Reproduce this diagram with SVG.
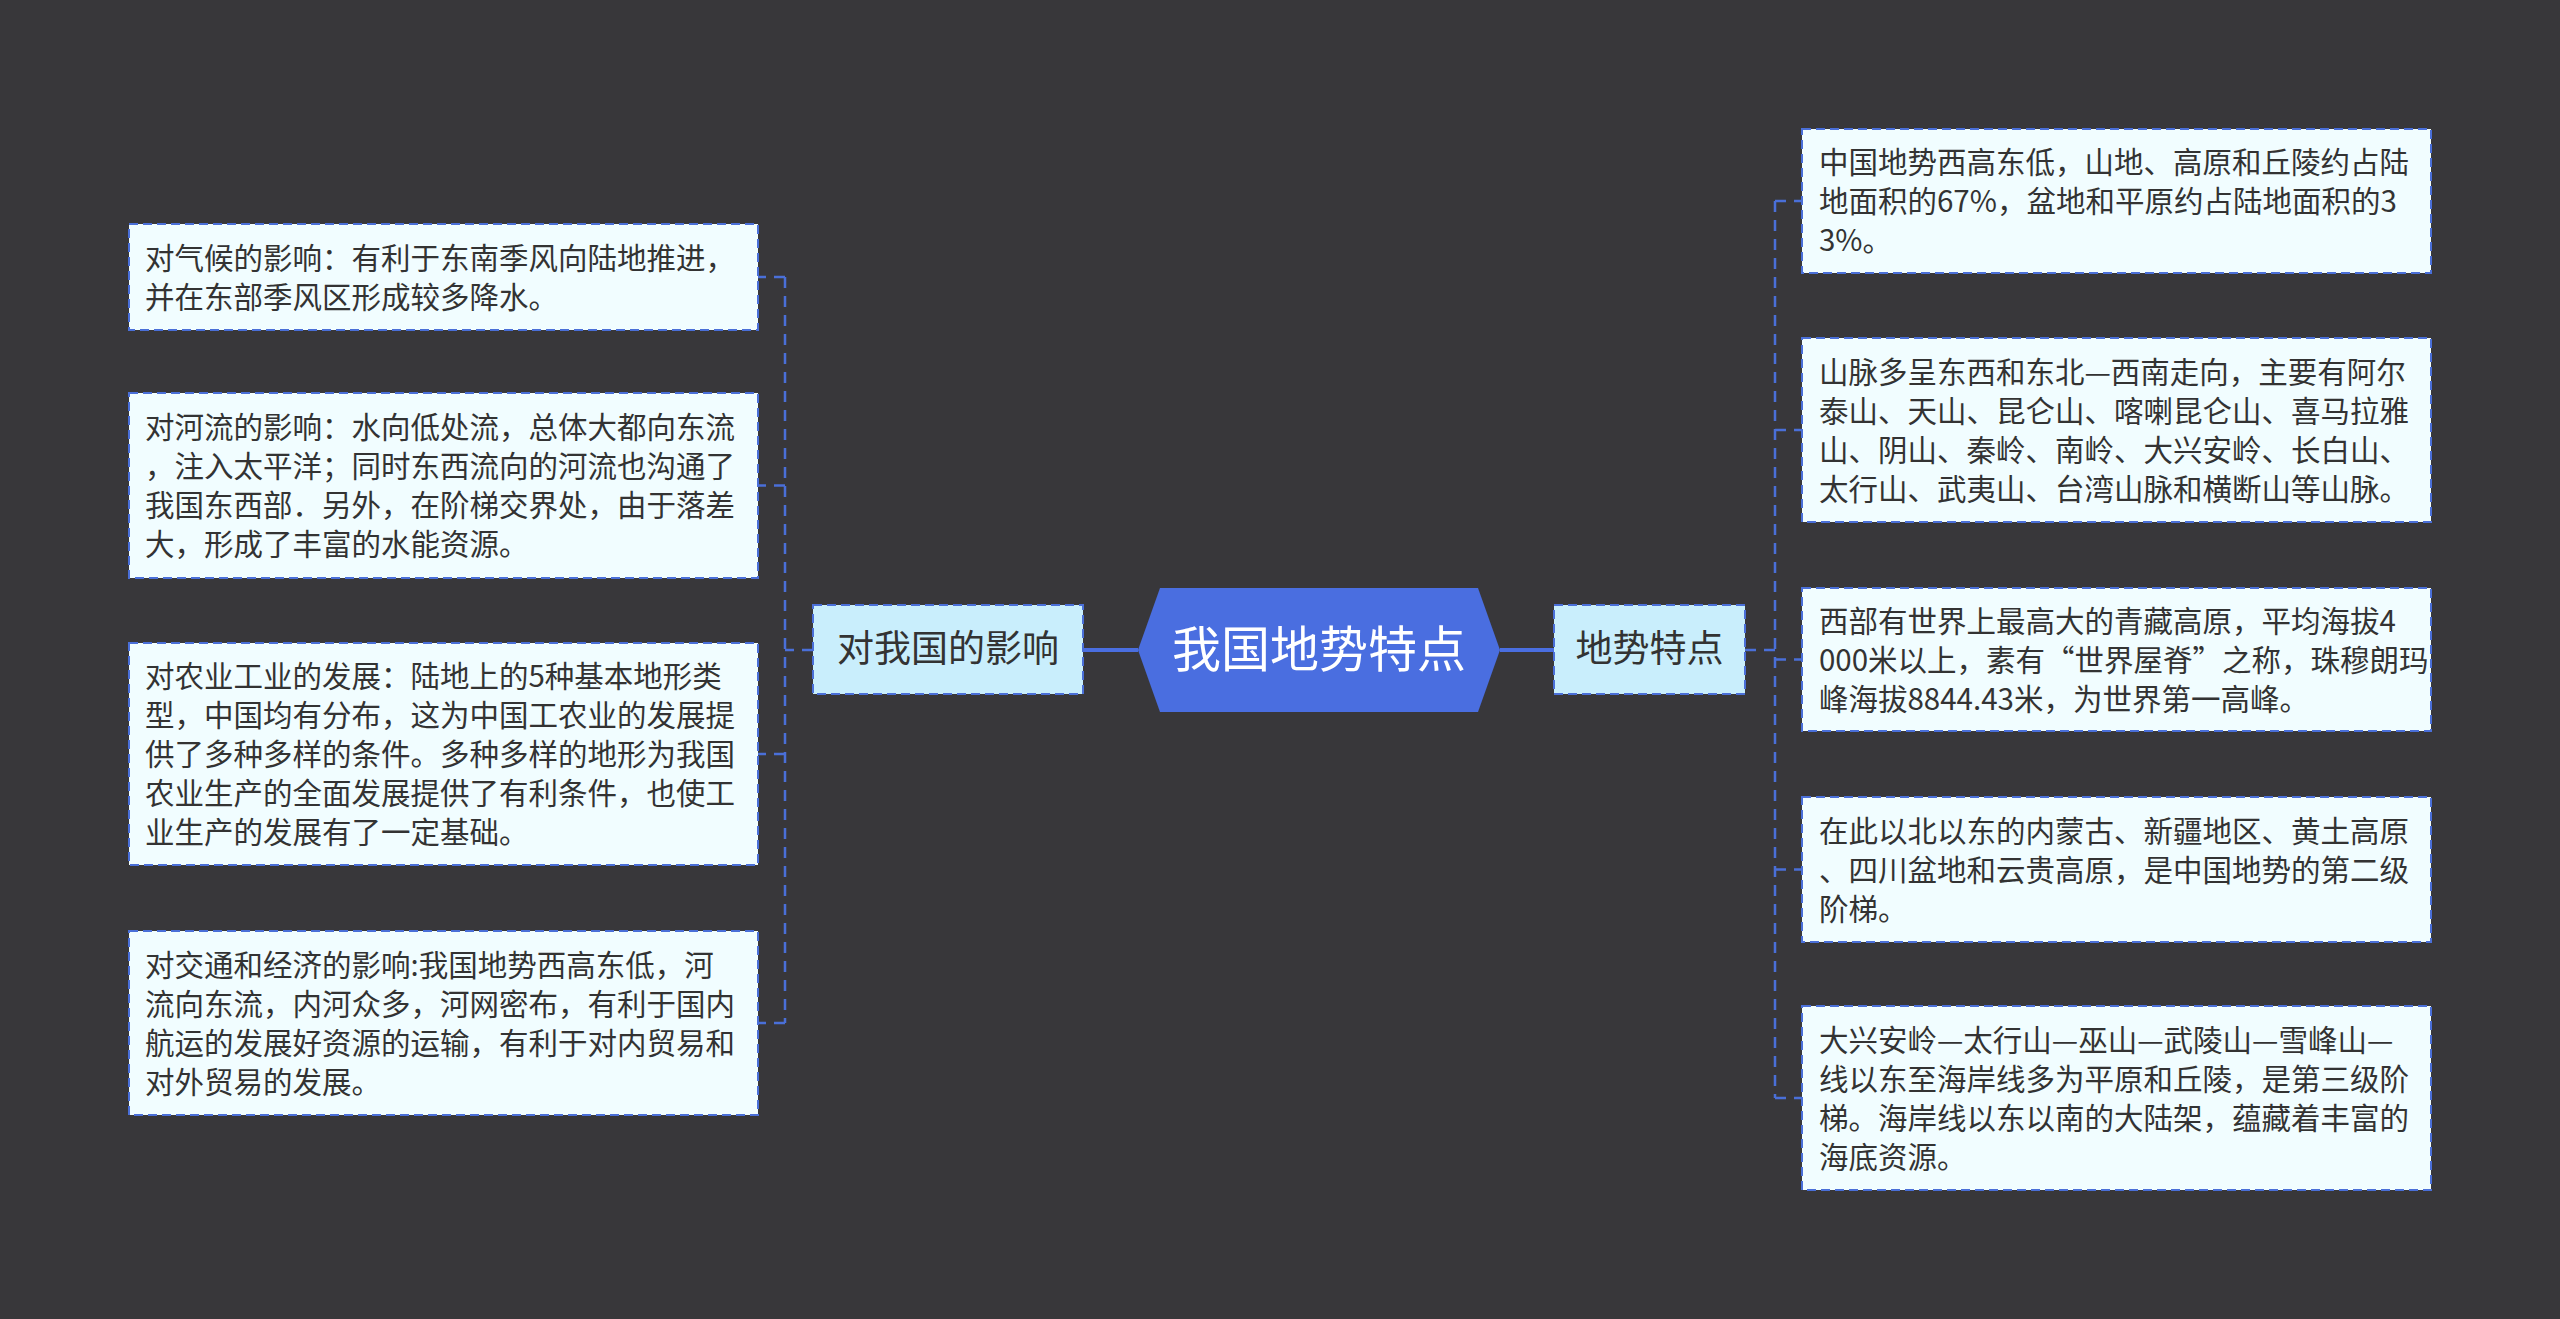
<svg xmlns="http://www.w3.org/2000/svg" width="2560" height="1319" viewBox="0 0 2560 1319">
<style>
.bg{fill:#38373a}
.leaf{fill:#f1fdff;stroke:#4a6fd8;stroke-width:2;stroke-dasharray:9 5}
.mid{fill:#c9eefc;stroke:#4a6fd8;stroke-width:2;stroke-dasharray:9 5}
.root{fill:#4a6ee0}
.t{font-family:"Noto Sans CJK SC","Noto Sans",sans-serif;font-size:29.5px;fill:#333333}
.tm{font-family:"Noto Sans CJK SC","Noto Sans",sans-serif;font-size:37px;fill:#333333;text-anchor:middle}
.tr{font-family:"Noto Sans CJK SC","Noto Sans",sans-serif;font-size:49px;fill:#ffffff;text-anchor:middle}
.solid{fill:none;stroke:#4a6ee0;stroke-width:4}
.dash{fill:none;stroke:#4a6fd8;stroke-width:2.5;stroke-dasharray:11 8}
</style>
<rect class="bg" x="0" y="0" width="2560" height="1319"/>
<g id="connectors">
<path class="solid" d="M1138 650 H1083"/>
<path class="solid" d="M1500 650 H1554"/>
<path class="dash" d="M813 650 H785"/>
<path class="dash" d="M785 277 V1023"/>
<path class="dash" d="M785 277 H758"/>
<path class="dash" d="M785 485.5 H758"/>
<path class="dash" d="M785 754 H758"/>
<path class="dash" d="M785 1023 H758"/>
<path class="dash" d="M1745 650 H1775"/>
<path class="dash" d="M1775 201 V1098"/>
<path class="dash" d="M1775 201 H1802"/>
<path class="dash" d="M1775 430 H1802"/>
<path class="dash" d="M1775 659.5 H1802"/>
<path class="dash" d="M1775 869.5 H1802"/>
<path class="dash" d="M1775 1098 H1802"/>
</g>
<g id="root">
<polygon class="root" points="1138,650 1160,588 1478,588 1500,650 1478,712 1160,712"/>
<text class="tr" x="1319" y="667">我国地势特点</text>
</g>
<g id="node-influence">
<rect class="mid" x="813" y="605" width="270" height="89"/>
<text class="tm" x="948" y="662">对我国的影响</text>
</g>
<g id="node-features">
<rect class="mid" x="1554" y="605" width="191" height="89"/>
<text class="tm" x="1649.5" y="662">地势特点</text>
</g>
<g id="left-1">
<rect class="leaf" x="129" y="224" width="629" height="106"/>
<text class="t" y="268.5"><tspan x="145">对气候的影响：有利于东南季风向陆地推进，</tspan><tspan x="145" dy="39">并在东部季风区形成较多降水。</tspan></text>
</g>
<g id="left-2">
<rect class="leaf" x="129" y="393" width="629" height="185"/>
<text class="t" y="438"><tspan x="145">对河流的影响：水向低处流，总体大都向东流</tspan><tspan x="145" dy="39">，注入太平洋；同时东西流向的河流也沟通了</tspan><tspan x="145" dy="39">我国东西部．另外，在阶梯交界处，由于落差</tspan><tspan x="145" dy="39">大，形成了丰富的水能资源。</tspan></text>
</g>
<g id="left-3">
<rect class="leaf" x="129" y="643" width="629" height="222"/>
<text class="t" y="687"><tspan x="145">对农业工业的发展：陆地上的5种基本地形类</tspan><tspan x="145" dy="39">型，中国均有分布，这为中国工农业的发展提</tspan><tspan x="145" dy="39">供了多种多样的条件。多种多样的地形为我国</tspan><tspan x="145" dy="39">农业生产的全面发展提供了有利条件，也使工</tspan><tspan x="145" dy="39">业生产的发展有了一定基础。</tspan></text>
</g>
<g id="left-4">
<rect class="leaf" x="129" y="931" width="629" height="184"/>
<text class="t" y="975.5"><tspan x="145">对交通和经济的影响:我国地势西高东低，河</tspan><tspan x="145" dy="39">流向东流，内河众多，河网密布，有利于国内</tspan><tspan x="145" dy="39">航运的发展好资源的运输，有利于对内贸易和</tspan><tspan x="145" dy="39">对外贸易的发展。</tspan></text>
</g>
<g id="right-1">
<rect class="leaf" x="1802" y="129" width="629" height="144"/>
<text class="t" y="173"><tspan x="1819">中国地势西高东低，山地、高原和丘陵约占陆</tspan><tspan x="1819" dy="39">地面积的67%，盆地和平原约占陆地面积的3</tspan><tspan x="1819" dy="39">3%。</tspan></text>
</g>
<g id="right-2">
<rect class="leaf" x="1802" y="338" width="629" height="184"/>
<text class="t" y="382.5"><tspan x="1819">山脉多呈东西和东北—西南走向，主要有阿尔</tspan><tspan x="1819" dy="39">泰山、天山、昆仑山、喀喇昆仑山、喜马拉雅</tspan><tspan x="1819" dy="39">山、阴山、秦岭、南岭、大兴安岭、长白山、</tspan><tspan x="1819" dy="39">太行山、武夷山、台湾山脉和横断山等山脉。</tspan></text>
</g>
<g id="right-3">
<rect class="leaf" x="1802" y="588" width="629" height="143"/>
<text class="t" y="631.5"><tspan x="1819">西部有世界上最高大的青藏高原，平均海拔4</tspan><tspan x="1819" dy="39">000米以上，素有“世界屋脊”之称，珠穆朗玛</tspan><tspan x="1819" dy="39">峰海拔8844.43米，为世界第一高峰。</tspan></text>
</g>
<g id="right-4">
<rect class="leaf" x="1802" y="797" width="629" height="145"/>
<text class="t" y="841.5"><tspan x="1819">在此以北以东的内蒙古、新疆地区、黄土高原</tspan><tspan x="1819" dy="39">、四川盆地和云贵高原，是中国地势的第二级</tspan><tspan x="1819" dy="39">阶梯。</tspan></text>
</g>
<g id="right-5">
<rect class="leaf" x="1802" y="1006" width="629" height="184"/>
<text class="t" y="1050.5"><tspan x="1819">大兴安岭—太行山—巫山—武陵山—雪峰山—</tspan><tspan x="1819" dy="39">线以东至海岸线多为平原和丘陵，是第三级阶</tspan><tspan x="1819" dy="39">梯。海岸线以东以南的大陆架，蕴藏着丰富的</tspan><tspan x="1819" dy="39">海底资源。</tspan></text>
</g>
</svg>
